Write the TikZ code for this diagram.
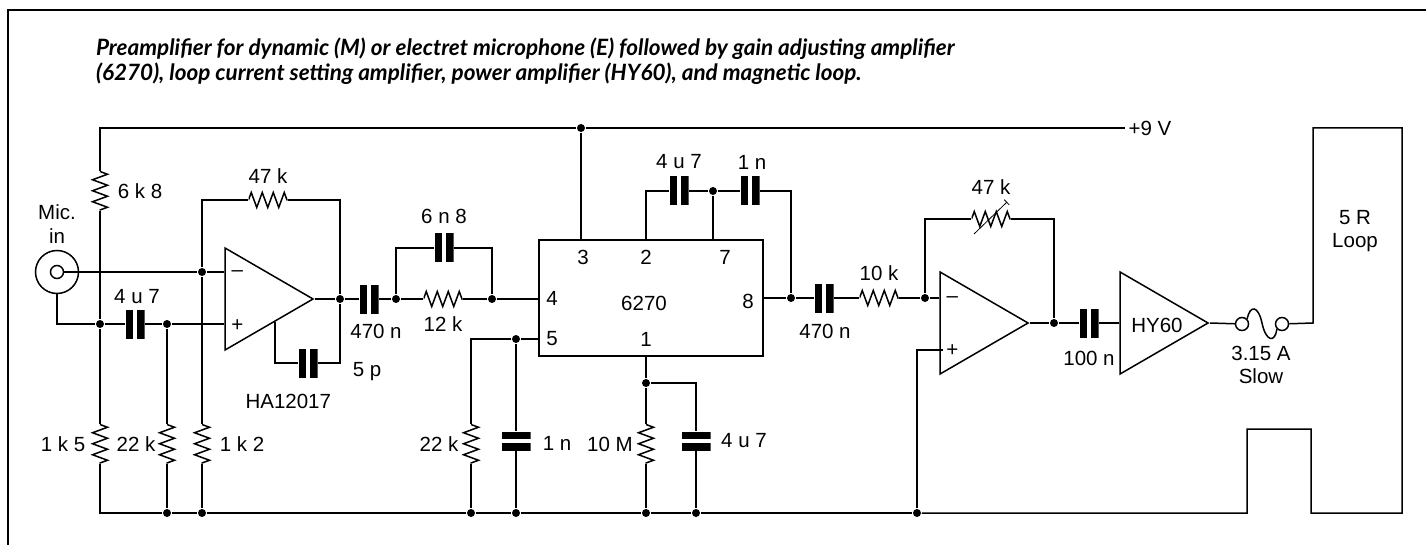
\documentclass[tikz,border=0pt]{standalone}
\usepackage{fontspec}
\setmainfont{Liberation Sans}
\newfontfamily\titlefont{Lato}
\usepackage{tikz}
\usetikzlibrary{arrows,decorations.pathmorphing,positioning,shapes.geometric}

\begin{document}
\begin{tikzpicture}[
    x=1pt,
    y=-1pt,
    node distance=24pt,
    line width=1.5pt,
    font=\fontsize{20.5}{23.5}\selectfont,
    dot/.style={
		circle,
		fill=black,
		inner sep=0pt,
		minimum size=8pt
	},
	resh/.style={
		inner sep=0pt,
		minimum width=39pt,
		minimum height=19pt,
		path picture={\draw [decorate, decoration={zigzag, segment length=11pt, amplitude=7.5pt}] (path picture bounding box.west) -- (path picture bounding box.east);}
	},
	resv/.style={
		inner sep=0pt,
		minimum width=19pt,
		minimum height=39pt,
		path picture={\draw [decorate, decoration={zigzag, segment length=11pt, amplitude=7.5pt}] (path picture bounding box.north) -- (path picture bounding box.south);}
	},
	caph/.style={
		inner sep=0pt,
		minimum width=19pt,
		minimum height=29pt,
		path picture={
			\fill (path picture bounding box.north west) rectangle ([xshift=7.5pt]path picture bounding box.south west);
			\fill (path picture bounding box.north east) rectangle ([xshift=-7.5pt]path picture bounding box.south east);}
	},
	capv/.style={
		inner sep=0pt,
		minimum width=29pt,
		minimum height=19pt,
		path picture={
			\fill (path picture bounding box.north west) rectangle ([yshift=-7.5pt]path picture bounding box.north east);
			\fill (path picture bounding box.south west) rectangle ([yshift=7.5pt]path picture bounding box.south east);}
	},
	amp/.style={
		isosceles triangle,
		isosceles triangle stretches,
		draw=black,
		inner sep=0pt,
		minimum height=88pt,
		minimum width=102pt,
		anchor=apex
	},
	ring/.style={
		circle,
		draw=black,
		inner sep=0pt,
		minimum size=13pt
	},
	ic/.style={
		rectangle,
		draw=black,
		minimum width=224pt,
		minimum height=116pt
	}
  ]

 \useasboundingbox (0,0) rectangle (1426,545);

 % // The frame
 \coordinate (framea) at (8,545);
 \coordinate (frameb) at (8,10);
 \coordinate (framec) at (1426,10);
 \draw (framea) -- (frameb) -- (framec);

 \node [anchor=west, align=left, font=\titlefont\fontsize{22.5}{24.5}\selectfont\bfseries\itshape] (title) at (92,61)
 {Preamplifier for dynamic (M) or electret microphone (E) followed by gain adjusting amplifier\\
 (6270), loop current setting amplifier, power amplifier (HY60), and magnetic loop.};

 % // Input stage
 \node [circle, draw=black, inner sep=0pt, minimum size=43pt] (mic) at (57,272) {};
 \node [ring] (micin) at (57,272) {};
 \node [above of=mic, yshift=24pt, align=center] (miclabel) {Mic.\\in};

 \node [resv] (r68) at (100,191) {};
 \node [right of=r68, xshift=16pt] (r68label) {6 k 8};
 \node [dot] (jcin) at (100,324) {};
 \node [caph] (c47) at (135,324) {};
 \node [above of=c47, yshift=3pt, xshift=2pt] (c47label) {4 u 7};
 \node [dot] (jplus) at (167,324) {};
 \node [dot] (jminus) at (202,272) {};

 \node [resv] (r15) at (100,444) {};
 \node [resv] (r22) at (167,444) {};
 \node [resv] (r12) at (202,444) {};
 \node [left of=r15, xshift=-13pt] (r15label) {1 k 5};
 \node [right of=r15, xshift=12pt] (r22label) {22 k};
 \node [right of=r12, xshift=16pt] (r12label) {1 k 2};

 \node [amp] (opa) at (315,299) {};
 \coordinate (opabase) at (opa.lower side);
 \node [right of=opabase, xshift=-11pt, yshift=25pt] (opaminus) {--};
 \node [right of=opabase, xshift=-11pt, yshift=-27pt] (opaplus) {+};
 \node [below of=opabase, xshift=64pt, yshift=-78pt] (opalabel) {HA12017};

 \node [resh] (r47) at (268,200) {};
 \node [above of=r47] (r47label) {47 k};
 \node [dot] (jouta) at (340,299) {};
 \node [caph] (c5p) at (308,363) {};
 \node [right of=c5p, xshift=35pt, yshift=-9pt] (c5plabel) {5 p};
 \coordinate (opafb) at (275,322);

 % // Gain adjusting amplifier
 \node [caph] (c470a) at (369,299) {};
 \node [below of=c470a, xshift=7pt, yshift=-8pt] (c470alabel) {470 n};
 \node [dot] (jfba) at (396,299) {};
 \node [resh] (r12k) at (443,299) {};
 \node [below of=r12k, yshift=-1pt] (r12klabel) {12 k};
 \node [dot] (jfbb) at (492,299) {};
 \node [caph] (c68) at (444,248) {};
 \node [above of=c68, yshift=8pt] (c68label) {6 n 8};

 \node [ic] (chip) at (651,298) {};
 \node (chipname) at (644,303) {6270};
 \node (pin3) at (583,257) {3};
 \node (pin2) at (646,257) {2};
 \node (pin7) at (725,257) {7};
 \node (pin4) at (552,298) {4};
 \node (pin8) at (748,301) {8};
 \node (pin5) at (552,339) {5};
 \node (pin1) at (646,339) {1};

 \node [dot] (jvcc) at (581,128) {};
 \node [inner sep=3pt] (vcc) at (1150,128) {+9 V};

 \node [caph] (c47b) at (679,191) {};
 \node [above of=c47b, yshift=5pt] (c47blabel) {4 u 7};
 \node [dot] (jseven) at (713,191) {};
 \node [caph] (c1n) at (750,191) {};
 \node [above of=c1n, yshift=5pt, xshift=2pt] (c1nlabel) {1 n};
 \node [dot] (joutb) at (791,298) {};

 \node [dot] (jfive) at (516,339) {};
 \node [resv] (r22b) at (471,444) {};
 \node [left of=r22b, xshift=-8pt] (r22blabel) {22 k};
 \node [capv] (c1nb) at (516,441) {};
 \node [right of=c1nb, xshift=17pt, yshift=-2pt] (c1nblabel) {1 n};
 \node [dot] (jone) at (646,383) {};
 \node [resv] (r10m) at (646,444) {};
 \node [left of=r10m, xshift=-12pt] (r10mlabel) {10 M};
 \node [capv] (c47c) at (696,441) {};
 \node [right of=c47c, xshift=24pt] (c47clabel) {4 u 7};

 % // Loop current setting amplifier
 \node [caph] (c470b) at (824,298) {};
 \node [below of=c470b, xshift=1pt, yshift=-9pt] (c470blabel) {470 n};
 \node [resh] (r10k) at (879,298) {};
 \node [above of=r10k, yshift=1pt] (r10klabel) {10 k};
 \node [dot] (jminusb) at (925,298) {};

 \node [amp] (opb) at (1030,323) {};
 \coordinate (opbbase) at (opb.lower side);
 \node [right of=opbbase, xshift=-11pt, yshift=23pt] (opbminus) {--};
 \node [right of=opbbase, xshift=-11pt, yshift=-28pt] (opbplus) {+};
 \coordinate (opbin) at (943,350);

 \node [resh] (rpot) at (991,219) {};
 \node [above of=rpot, yshift=8pt] (rpotlabel) {47 k};
 \coordinate (pota) at (974,234);
 \coordinate (potb) at (1007,202);
 \node [dot] (joutc) at (1054,323) {};

 % // Power amplifier and magnetic loop
 \node [caph] (c100) at (1089,323) {};
 \node [below of=c100, yshift=-11pt] (c100label) {100 n};
 \node [amp] (hy) at (1210,323) {};
 \node (hylabel) at (1157,325) {HY60};

 \node [ring] (fusea) at (1242,324) {};
 \node [ring] (fuseb) at (1282,324) {};
 \node [below of=fusea, xshift=19pt, yshift=-17pt, align=center] (fuselabel) {3.15 A\\Slow};
 \node [align=center] (looplabel) at (1355,231) {5 R\\Loop};

 \coordinate (loopa) at (1247,513);
 \coordinate (loopb) at (1247,429);
 \coordinate (loopc) at (1311,429);
 \coordinate (loopd) at (1311,513);
 \coordinate (loope) at (1402,513);
 \coordinate (loopf) at (1402,128);
 \coordinate (loopg) at (1313,128);
 \coordinate (looph) at (1313,323);

 % // Bottom rail
 \node [dot] (gndb) at (167,513) {};
 \node [dot] (gndc) at (202,513) {};
 \node [dot] (gndd) at (471,513) {};
 \node [dot] (gnde) at (516,513) {};
 \node [dot] (gndf) at (646,513) {};
 \node [dot] (gndg) at (696,513) {};
 \node [dot] (gndh) at (917,513) {};

 % // Wires
 \draw (r68.north) |- (jvcc);
 \draw (jvcc) -- (vcc);
 \draw (jvcc) -- (jvcc |- chip.north);
 \draw (r68.south) -- (jcin);
 \draw (micin) -- (jminus);
 \draw (jminus) -- (jminus -| opa.lower side);
 \draw (mic.south) |- (jcin);
 \draw (jcin) -- (c47);
 \draw (c47) -- (jplus);
 \draw (jplus) -- (jplus -| opa.lower side);
 \draw (jcin) -- (r15.north);
 \draw (jplus) -- (r22.north);
 \draw (jminus) -- (r12.north);
 \draw (r22.south) -- (gndb);
 \draw (r12.south) -- (gndc);
 \draw (r15.south) |- (gndb);
 \draw (jminus) |- (r47.west);
 \draw (r47.east) -| (jouta);
 \draw (opa.apex) -- (jouta);
 \draw (jouta) |- (c5p.east);
 \draw (c5p.west) -| (opafb);

 \draw (jouta) -- (c470a);
 \draw (c470a) -- (jfba);
 \draw (jfba) -- (r12k);
 \draw (r12k) -- (jfbb);
 \draw (jfbb) -- (jfbb -| chip.west);
 \draw (jfba) |- (c68.west);
 \draw (c68.east) -| (jfbb);

 \draw (c47b.west) -| (pin2 |- chip.north);
 \draw (c47b) -- (jseven);
 \draw (jseven) -- (c1n);
 \draw (jseven) -- (jseven |- chip.north);
 \draw (c1n.east) -| (joutb);
 \draw (joutb -| chip.east) -- (joutb);

 \draw (jfive -| chip.west) -- (jfive);
 \draw (jfive) -- (c1nb);
 \draw (jfive) -| (r22b.north);
 \draw (r22b.south) -- (gndd);
 \draw (c1nb) -- (gnde);
 \draw (jone |- chip.south) -- (jone);
 \draw (jone) -- (r10m.north);
 \draw (jone) -| (c47c.north);
 \draw (r10m.south) -- (gndf);
 \draw (c47c) -- (gndg);

 \draw (joutb) -- (c470b);
 \draw (c470b) -- (r10k);
 \draw (r10k) -- (jminusb);
 \draw (jminusb) -- (jminusb -| opb.lower side);
 \draw (gndh) |- (opbin);
 \draw (jminusb) |- (rpot.west);
 \draw (rpot.east) -| (joutc);
 \draw (opb.apex) -- (joutc);
 \draw [-|, line width=0.8pt] (pota) -- (potb);

 \draw (joutc) -- (c100);
 \draw (c100) -- (c100 -| hy.lower side);
 \draw (hy.apex) -- (fusea);
 \draw (fusea.north east) .. controls (1250,305) and (1258,305) .. (1262,323) .. controls (1266,342) and (1275,343) .. (fuseb.south west);
 \draw (gndb) -- (gndc);
 \draw (gndc) -- (gndd);
 \draw (gndd) -- (gnde);
 \draw (gnde) -- (gndf);
 \draw (gndf) -- (gndg);
 \draw (gndg) -- (gndh);
 \draw (gndh) -- (loopa) -- (loopb) -- (loopc) -- (loopd) -- (loope) -- (loopf) -- (loopg) -- (looph) -- (fuseb);

\end{tikzpicture}
\end{document}
